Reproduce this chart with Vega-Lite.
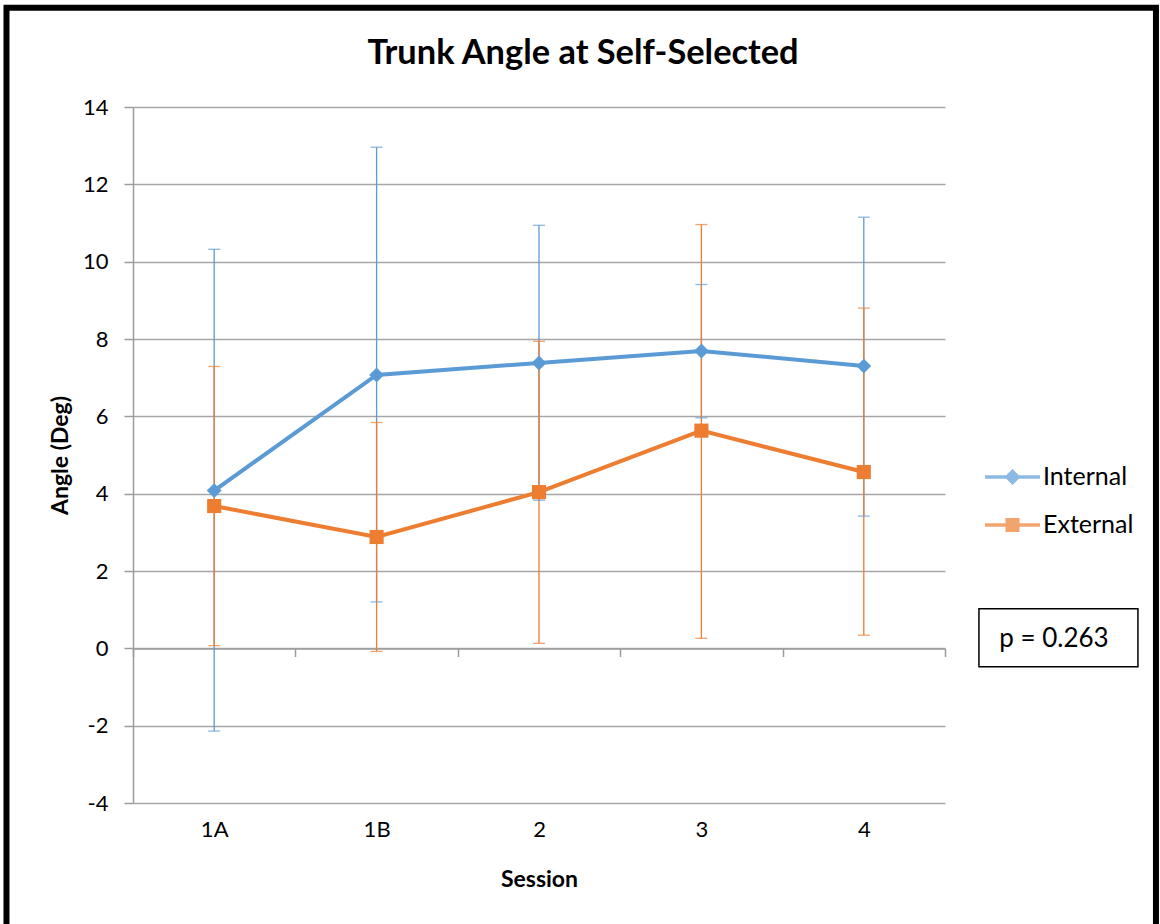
{
  "$schema": "https://vega.github.io/schema/vega-lite/v6.json",
  "width": 812,
  "height": 696,
  "autosize": "none",
  "padding": {"left": 133, "top": 107, "right": 215, "bottom": 121},
  "background": "white",
  "config": {
    "font": "Lato",
    "view": {"stroke": null},
    "axis": {"labelColor": "black", "titleColor": "black", "labelFont": "Lato", "titleFont": "Lato"},
    "axisY": {
      "grid": true,
      "tickCount": 9,
      "labelExpr": "'' + datum.value",
      "titleFontSize": 23,
      "titleFontWeight": "bold",
      "titlePadding": 10,
      "labelFontSize": 22,
      "labelPadding": 16,
      "tickSize": 9,
      "tickColor": "#9C9C9C",
      "tickWidth": 1.5,
      "domainColor": "#9C9C9C",
      "domainWidth": 1.5,
      "gridColor": "#A6A6A6",
      "gridWidth": 1.5
    }
  },
  "title": {
    "text": "Trunk Angle at Self-Selected",
    "font": "Lato",
    "fontSize": 34.4,
    "fontWeight": "bold",
    "color": "black",
    "anchor": "middle",
    "frame": "group",
    "baseline": "alphabetic",
    "dx": 44,
    "offset": -94
  },
  "data": {
    "values": [
      {"series": "Internal", "session": "1A", "idx": 1, "v": 4.08, "lo": -2.14, "hi": 10.32},
      {"series": "Internal", "session": "1B", "idx": 2, "v": 7.07, "lo": 1.2, "hi": 12.96},
      {"series": "Internal", "session": "2", "idx": 3, "v": 7.38, "lo": 3.83, "hi": 10.94},
      {"series": "Internal", "session": "3", "idx": 4, "v": 7.69, "lo": 5.96, "hi": 9.41},
      {"series": "Internal", "session": "4", "idx": 5, "v": 7.3, "lo": 3.42, "hi": 11.15},
      {"series": "External", "session": "1A", "idx": 1, "v": 3.68, "lo": 0.07, "hi": 7.29},
      {"series": "External", "session": "1B", "idx": 2, "v": 2.88, "lo": -0.08, "hi": 5.84},
      {"series": "External", "session": "2", "idx": 3, "v": 4.04, "lo": 0.13, "hi": 7.94},
      {"series": "External", "session": "3", "idx": 4, "v": 5.63, "lo": 0.26, "hi": 10.96},
      {"series": "External", "session": "4", "idx": 5, "v": 4.56, "lo": 0.34, "hi": 8.8}
    ]
  },
  "resolve": {"axis": {"x": "independent"}},
  "layer": [
    {
      "data": {"values": [{"note": "frame"}]},
      "mark": {"type": "rect", "fill": null, "stroke": "black", "strokeWidth": 6},
      "encoding": {
        "x": {"datum": -0.279, "type": "quantitative", "scale": {"domain": [0.5, 5.5], "nice": false, "zero": false}, "axis": null},
        "x2": {"datum": 6.799},
        "y": {"datum": 16.567, "type": "quantitative", "scale": {"domain": [-4, 14], "nice": false, "zero": false}, "title": "Angle (Deg)"},
        "y2": {"datum": -7.42}
      }
    },
    {
      "mark": {"type": "rule", "strokeWidth": 1.3},
      "encoding": {
        "x": {
          "field": "idx", "type": "quantitative",
          "axis": {
            "orient": "bottom",
            "values": [0.5, 1.5, 2.5, 3.5, 4.5, 5.5],
            "labels": false,
            "grid": false,
            "title": null,
            "offset": -154.5,
            "tickSize": 8,
            "tickColor": "#9C9C9C",
            "tickWidth": 1.5,
            "domainColor": "#9C9C9C",
            "domainWidth": 1.5
          }
        },
        "y": {"field": "lo", "type": "quantitative", "title": "Angle (Deg)"},
        "y2": {"field": "hi"},
        "color": {"field": "series", "type": "nominal", "scale": {"domain": ["Internal", "External"], "range": ["#5B9BD5", "#ED7D31"]}, "legend": {
            "orient": "none",
            "legendX": 852,
            "legendY": 357,
            "title": null,
            "labelFontSize": 25,
            "labelFont": "Lato",
            "labelColor": "black",
            "symbolSize": 3025,
            "symbolOpacity": 1,
            "symbolStrokeWidth": 0,
            "clipHeight": 26,
            "rowPadding": 22,
            "labelOffset": 3,
            "symbolOffset": 0
          }}
      }
    },
    {
      "mark": {"type": "tick", "orient": "horizontal", "size": 12, "thickness": 1.3},
      "encoding": {
        "x": {"field": "idx", "type": "quantitative", "axis": null},
        "y": {"field": "lo", "type": "quantitative", "title": "Angle (Deg)"},
        "color": {"field": "series", "type": "nominal"}
      }
    },
    {
      "mark": {"type": "tick", "orient": "horizontal", "size": 12, "thickness": 1.3},
      "encoding": {
        "x": {"field": "idx", "type": "quantitative", "axis": null},
        "y": {"field": "hi", "type": "quantitative", "title": "Angle (Deg)"},
        "color": {"field": "series", "type": "nominal"}
      }
    },
    {
      "mark": {"type": "line", "strokeWidth": 4},
      "encoding": {
        "x": {
          "field": "idx", "type": "quantitative",
          "axis": {
            "orient": "bottom",
            "values": [1, 2, 3, 4, 5],
            "labelExpr": "['','1A','1B','2','3','4'][datum.value]",
            "domain": false,
            "ticks": false,
            "grid": false,
            "labelFontSize": 22,
            "labelPadding": 16,
            "title": "Session",
            "titleFontSize": 23,
            "titleFontWeight": "bold",
            "titlePadding": 28
          }
        },
        "y": {"field": "v", "type": "quantitative", "title": "Angle (Deg)"},
        "color": {"field": "series", "type": "nominal"}
      }
    },
    {
      "transform": [{"filter": "datum.idx > 100"}],
      "mark": {"type": "point", "filled": true, "opacity": 1, "strokeWidth": 0},
      "encoding": {
        "x": {"field": "idx", "type": "quantitative", "axis": null},
        "y": {"field": "v", "type": "quantitative", "title": "Angle (Deg)"},
        "color": {"field": "series", "type": "nominal"},
        "shape": {"field": "series", "type": "nominal", "scale": {"domain": ["Internal", "External"], "range": ["M-1,-0.064H1V0.064H-1ZM0,-0.29L0.29,0L0,0.29L-0.29,0Z", "M-1,-0.064H1V0.064H-1ZM-0.255,-0.255H0.255V0.255H-0.255Z"]}, "legend": null}
      }
    },
    {
      "transform": [{"filter": "datum.series === 'Internal'"}],
      "mark": {"type": "point", "filled": true, "size": 220, "opacity": 1, "shape": "diamond"},
      "encoding": {
        "x": {"field": "idx", "type": "quantitative", "axis": null},
        "y": {"field": "v", "type": "quantitative", "title": "Angle (Deg)"},
        "color": {"field": "series", "type": "nominal"}
      }
    },
    {
      "transform": [{"filter": "datum.series === 'External'"}],
      "mark": {"type": "point", "filled": true, "size": 200, "opacity": 1, "shape": "square"},
      "encoding": {
        "x": {"field": "idx", "type": "quantitative", "axis": null},
        "y": {"field": "v", "type": "quantitative", "title": "Angle (Deg)"},
        "color": {"field": "series", "type": "nominal"}
      }
    },
    {
      "data": {"values": [{"label": "p = 0.263"}]},
      "mark": {"type": "rect", "fill": "white", "stroke": "black", "strokeWidth": 1.5},
      "encoding": {
        "x": {"datum": 5.709, "type": "quantitative", "axis": null},
        "x2": {"datum": 6.688},
        "y": {"datum": 1.022, "type": "quantitative", "title": "Angle (Deg)"},
        "y2": {"datum": -0.479}
      }
    },
    {
      "data": {"values": [{"label": "p = 0.263"}]},
      "mark": {"type": "text", "font": "Lato", "fontSize": 26, "color": "black", "align": "center", "baseline": "alphabetic"},
      "encoding": {
        "x": {"datum": 6.171, "type": "quantitative", "axis": null},
        "y": {"datum": 0.04, "type": "quantitative", "title": "Angle (Deg)"},
        "text": {"field": "label"}
      }
    }
  ]
}
